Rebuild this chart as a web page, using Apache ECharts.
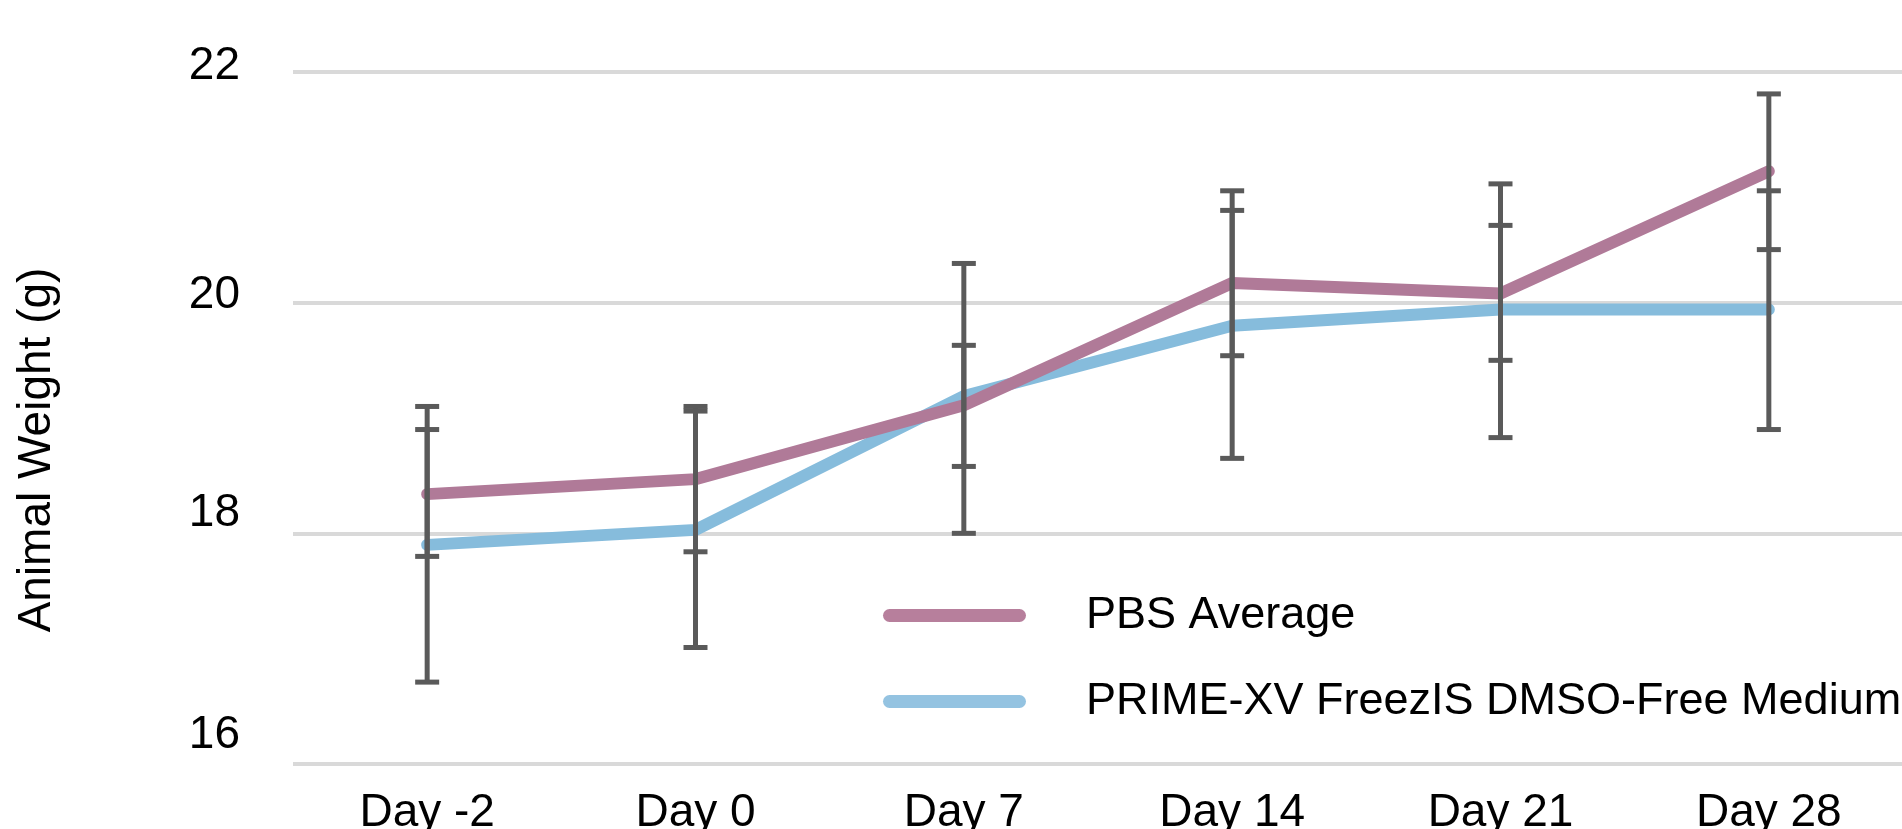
<!DOCTYPE html>
<html>
<head>
<meta charset="utf-8">
<style>
  html, body { margin: 0; padding: 0; background: #ffffff; }
  #chart { width: 1902px; height: 829px; }
</style>
<script src="https://cdn.jsdelivr.net/npm/echarts@6/dist/echarts.min.js"></script>
</head>
<body>
<div id="chart"></div>
<script>
const categories = ['Day -2', 'Day 0', 'Day 7', 'Day 14', 'Day 21', 'Day 28'];
const yTicks = [16, 18, 20, 22];

const pbsName = 'PBS Average';
const pbsMean = [18.34, 18.47, 19.11, 20.17, 20.08, 21.14];
const pbsLow  = [17.80, 17.84, 18.58, 19.54, 19.50, 20.46];
const pbsHigh = [18.90, 19.10, 19.63, 20.80, 20.67, 21.81];

const freezName = 'PRIME-XV FreezIS DMSO-Free Medium';
const freezMean = [17.90, 18.03, 19.19, 19.80, 19.94, 19.94];
const freezLow  = [16.71, 17.01, 18.00, 18.65, 18.83, 18.90];
const freezHigh = [19.10, 19.06, 20.34, 20.97, 21.03, 20.97];

const FONT = "'Liberation Sans', Arial, Helvetica, sans-serif";
const FS = 46;
const PBS_COLOR = '#b07a98';
const FREEZ_COLOR = '#86bcdc';
const ERR_COLOR = '#5a5a5a';

function errData(low, high) {
  return low.map((l, i) => [i, l, high[i]]);
}

function renderErr(params, api) {
  const i = api.value(0);
  const top = api.coord([i, api.value(2)]);
  const bot = api.coord([i, api.value(1)]);
  const hw = 12;
  const style = { stroke: ERR_COLOR, lineWidth: 5, fill: null };
  return {
    type: 'group',
    children: [
      { type: 'line', shape: { x1: top[0], y1: top[1], x2: bot[0], y2: bot[1] }, style: style },
      { type: 'line', shape: { x1: top[0] - hw, y1: top[1], x2: top[0] + hw, y2: top[1] }, style: style },
      { type: 'line', shape: { x1: bot[0] - hw, y1: bot[1], x2: bot[0] + hw, y2: bot[1] }, style: style }
    ]
  };
}

// vertical nudge of each y tick label (labels sit slightly above their gridlines)
const labelLift = { 16: 58, 18: 40, 20: 14, 22: 12 };

function tickRich(v) {
  return { fontSize: FS, fontFamily: FONT, color: '#000', padding: [0, 0, labelLift[v], 0] };
}

const chart = echarts.init(document.getElementById('chart'), null, { renderer: 'canvas' });
chart.setOption({
  animation: false,
  backgroundColor: '#ffffff',
  textStyle: { fontFamily: FONT },
  grid: { left: 293, top: 72, width: 1610, height: 692, containLabel: false, outerBoundsMode: 'none' },
  legend: {
    orient: 'vertical',
    left: 878,
    top: 588,
    itemWidth: 143,
    itemHeight: 13,
    itemGap: 41,
    icon: 'path://M6.5,0L136.5,0A6.5,6.5,0,0,1,136.5,13L6.5,13A6.5,6.5,0,0,1,6.5,0Z',
    textStyle: { fontSize: 45, color: '#000000', fontFamily: FONT, padding: [0, 0, 0, 55] },
    data: [
      { name: pbsName, itemStyle: { color: '#b77f9c' } },
      { name: freezName, itemStyle: { color: '#94c3e1' } }
    ]
  },
  xAxis: {
    type: 'category',
    data: categories,
    boundaryGap: true,
    axisLine: { show: false },
    axisTick: { show: false },
    axisLabel: { fontSize: FS, color: '#000000', margin: 26, fontFamily: FONT, interval: 0 }
  },
  yAxis: {
    type: 'value',
    min: 16,
    max: 22,
    interval: 2,
    name: 'Animal Weight (g)',
    nameLocation: 'middle',
    nameGap: 233,
    nameTextStyle: { fontSize: FS, color: '#000000', fontFamily: FONT, padding: [0, 64, 0, 0] },
    axisLine: { show: false },
    axisTick: { show: false },
    splitLine: { show: true, lineStyle: { color: '#d9d9d9', width: 4 } },
    axisLabel: {
      margin: 53,
      fontSize: FS,
      color: '#000000',
      fontFamily: FONT,
      formatter: function (v) { return yTicks.indexOf(v) >= 0 ? '{t' + v + '|' + v + '}' : ''; },
      rich: { t16: tickRich(16), t18: tickRich(18), t20: tickRich(20), t22: tickRich(22) }
    }
  },
  series: [
    {
      name: freezName,
      type: 'line',
      data: freezMean,
      symbol: 'none',
      color: FREEZ_COLOR,
      lineStyle: { color: FREEZ_COLOR, width: 12, cap: 'round', join: 'round' },
      z: 2
    },
    {
      name: pbsName,
      type: 'line',
      data: pbsMean,
      symbol: 'none',
      color: PBS_COLOR,
      lineStyle: { color: PBS_COLOR, width: 12, cap: 'round', join: 'round' },
      z: 2
    },
    {
      name: 'freezErr',
      type: 'custom',
      data: errData(freezLow, freezHigh),
      renderItem: renderErr,
      encode: { x: 0, y: [1, 2] },
      z: 3
    },
    {
      name: 'pbsErr',
      type: 'custom',
      data: errData(pbsLow, pbsHigh),
      renderItem: renderErr,
      encode: { x: 0, y: [1, 2] },
      z: 3
    }
  ]
});
</script>
</body>
</html>
